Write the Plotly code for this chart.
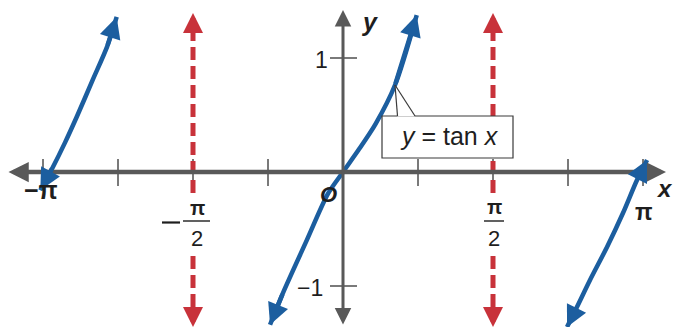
import math
import plotly.graph_objects as go

PI = math.pi

# ---- data (x in radians) ----
left_x = [-3.17, -3.04, -2.91, -2.79, -2.62, -2.47, -2.37]
left_y = [-0.16, 0.04, 0.26, 0.48, 0.81, 1.10, 1.36]

center_x = [-0.764, -0.628, -0.38, -0.157, 0.0, 0.16, 0.34, 0.545, 0.772]
center_y = [-1.34, -1.06, -0.60, -0.19, 0.0, 0.19, 0.42, 0.763, 1.377]

right_x = [2.346, 2.450, 2.587, 2.765, 2.932, 3.079, 3.184]
right_y = [-1.36, -1.184, -0.947, -0.658, -0.36, -0.07, 0.105]

asymptotes = [-PI / 2, PI / 2]
x_ticks = [-PI, -3 * PI / 4, -PI / 2, -PI / 4, PI / 4, PI / 2, 3 * PI / 4, PI]
y_ticks = [1, -1]
y_tick_labels = ["1", "\u22121"]

# ---- pixel helpers (layout only) ----
def px2x(px):
    return (px - 343) * PI / 300

def py2y(py):
    return (172 - py) / 114

BLUE = "#1c5e9f"
RED = "#c8323a"
GRAY = "#595959"
TXT = "#1e1e1e"
FONT = "Liberation Sans"

fig = go.Figure()

shapes = []
annotations = []

# x axis with arrows on both ends
annotations.append(dict(x=px2x(666), y=0, ax=px2x(7), ay=0, xref="x", yref="y",
                        axref="x", ayref="y", text="", showarrow=True,
                        arrowhead=2, arrowside="end+start", arrowsize=0.9,
                        arrowwidth=4.5, arrowcolor=GRAY, standoff=0, startstandoff=0))
# y axis with arrows on both ends
annotations.append(dict(x=0, y=py2y(10), ax=0, ay=py2y(326), xref="x", yref="y",
                        axref="x", ayref="y", text="", showarrow=True,
                        arrowhead=2, arrowside="end+start", arrowsize=1.1,
                        arrowwidth=3, arrowcolor=GRAY, standoff=0, startstandoff=0))

# x ticks
for t in x_ticks:
    shapes.append(dict(type="line", xref="x", yref="y", x0=t, x1=t,
                       y0=py2y(159), y1=py2y(186),
                       line=dict(color=GRAY, width=1.6), layer="above"))
# y ticks
for v in y_ticks:
    shapes.append(dict(type="line", xref="x", yref="y", x0=px2x(330), x1=px2x(357),
                       y0=v, y1=v, line=dict(color=GRAY, width=1.6), layer="above"))

# asymptotes (dashed) + arrowheads
for a in asymptotes:
    shapes.append(dict(type="line", xref="x", yref="y", x0=a, x1=a,
                       y0=py2y(28), y1=py2y(316),
                       line=dict(color=RED, width=5, dash="13px,6px"), layer="above"))
    annotations.append(dict(x=a, y=py2y(13), ax=a, ay=py2y(32), xref="x", yref="y",
                            axref="x", ayref="y", text="", showarrow=True,
                            arrowhead=2, arrowsize=0.8, arrowwidth=5,
                            arrowcolor=RED, standoff=0))
    annotations.append(dict(x=a, y=py2y(327), ax=a, ay=py2y(308), xref="x", yref="y",
                            axref="x", ayref="y", text="", showarrow=True,
                            arrowhead=2, arrowsize=0.8, arrowwidth=5,
                            arrowcolor=RED, standoff=0))

# white patches behind the fraction labels
for cx in [197, 494]:
    shapes.append(dict(type="rect", xref="x", yref="y", x0=px2x(cx - 14), x1=px2x(cx + 14),
                       y0=py2y(253), y1=py2y(197), fillcolor="white",
                       line=dict(width=0), layer="above"))

# curves
for bx, by in [(left_x, left_y), (center_x, center_y), (right_x, right_y)]:
    fig.add_trace(go.Scatter(x=bx, y=by, mode="lines",
                             line=dict(color=BLUE, width=4.5, shape="spline", smoothing=0.8),
                             hoverinfo="skip", showlegend=False))
    for i0, i1 in [(1, 0), (-2, -1)]:
        annotations.append(dict(x=bx[i1], y=by[i1], ax=bx[i0], ay=by[i0],
                                xref="x", yref="y", axref="x", ayref="y", text="",
                                showarrow=True, arrowhead=2, arrowsize=0.95,
                                arrowwidth=4.5, arrowcolor=BLUE, standoff=0))

# callout box
shapes.append(dict(type="rect", xref="x", yref="y", x0=px2x(382), x1=px2x(513),
                   y0=py2y(158), y1=py2y(116), fillcolor="white",
                   line=dict(color="#3a3a3a", width=1.2), layer="above"))
shapes.append(dict(type="path", xref="x", yref="y",
                   path="M {:.4f},{:.4f} L {:.4f},{:.4f} L {:.4f},{:.4f} Z".format(
                       px2x(397.5), py2y(116.6), px2x(395), py2y(85),
                       px2x(415), py2y(116.6)),
                   fillcolor="white", line=dict(width=0), layer="above"))
for (x1p, y1p) in [(397.5, 116), (415, 116)]:
    shapes.append(dict(type="line", xref="x", yref="y", x0=px2x(395), y0=py2y(85),
                       x1=px2x(x1p), y1=py2y(y1p),
                       line=dict(color="#3a3a3a", width=1.2), layer="above"))
annotations.append(dict(x=px2x(449), y=py2y(136), xref="x", yref="y",
                        text="<i>y</i> = tan <i>x</i>", showarrow=False,
                        font=dict(family=FONT, size=25, color=TXT)))

def lab(px, py, text, size=20, bold=False, italic=False):
    t = text
    if italic:
        t = "<i>" + t + "</i>"
    if bold:
        t = "<b>" + t + "</b>"
    annotations.append(dict(x=px2x(px), y=py2y(py), xref="x", yref="y", text=t,
                            showarrow=False, font=dict(family=FONT, size=size, color=TXT)))

lab(41, 190, "\u2212\u03c0", size=25, bold=True)
lab(644, 212, "\u03c0", size=23, bold=True)
# -pi/2
lab(197, 208, "\u03c0", size=20, bold=True)
lab(197, 238, "2", size=22)
shapes.append(dict(type="line", xref="x", yref="y", x0=px2x(183), x1=px2x(210),
                   y0=py2y(221), y1=py2y(221), line=dict(color=TXT, width=1.4), layer="above"))
shapes.append(dict(type="line", xref="x", yref="y", x0=px2x(162), x1=px2x(180),
                   y0=py2y(222.5), y1=py2y(222.5), line=dict(color=TXT, width=2.2), layer="above"))
# pi/2
lab(494, 207, "\u03c0", size=20, bold=True)
lab(494, 238, "2", size=22)
shapes.append(dict(type="line", xref="x", yref="y", x0=px2x(484), x1=px2x(504),
                   y0=py2y(221), y1=py2y(221), line=dict(color=TXT, width=1.4), layer="above"))

# y tick labels
lab(321, 60, y_tick_labels[0], size=23)
lab(310, 288, y_tick_labels[1], size=23)

# axis names and origin
lab(328, 194, "O", size=22, bold=True, italic=True)
lab(369, 22, "y", size=25, bold=True, italic=True)
lab(664, 188, "x", size=24, bold=True, italic=True)

fig.update_layout(
    width=675, height=327, autosize=False,
    margin=dict(l=0, r=0, t=0, b=0),
    paper_bgcolor="white", plot_bgcolor="white",
    xaxis=dict(range=[px2x(0), px2x(675)], visible=False, fixedrange=True),
    yaxis=dict(range=[py2y(327), py2y(0)], visible=False, fixedrange=True),
    shapes=shapes, annotations=annotations, showlegend=False,
)

fig.write_html("out.html", config={"displayModeBar": False},
               post_script="document.body.style.margin='0';document.body.style.overflow='hidden';")
